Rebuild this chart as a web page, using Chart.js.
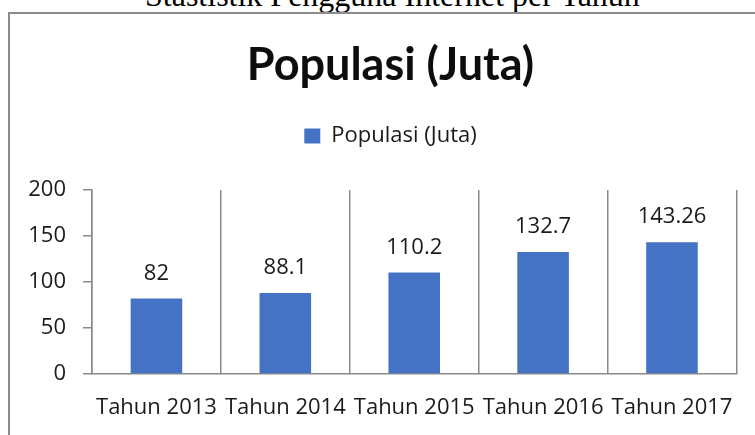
<!DOCTYPE html>
<html>
<head>
<meta charset="utf-8">
<title>Populasi (Juta)</title>
<script src="https://cdn.jsdelivr.net/npm/chart.js@4/dist/chart.umd.min.js"></script>
<style>
    html, body {
        margin: 0;
        padding: 0;
        width: 755px;
        height: 435px;
        overflow: hidden;
        background: #ffffff;
    }
    /* caption of the document, cut off at the top edge */
    .doc-caption {
        position: absolute;
        left: 145px;
        top: -21px;
        font-family: 'Liberation Serif', 'Times New Roman', serif;
        font-size: 32px;
        line-height: 32px;
        color: #000;
        white-space: nowrap;
    }
    /* the chart frame */
    .chart-frame {
        position: absolute;
        left: 8px;
        top: 12px;
        width: 800px;
        height: 500px;
        border: 2px solid #8c8c8c;
    }
    .chart-wrap {
        position: absolute;
        left: 0;
        top: 0;
        width: 755px;
        height: 435px;
    }
</style>
</head>
<body>
<div class="doc-caption">Stastistik Pengguna Internet per Tahun</div>
<div class="chart-frame"></div>
<div class="chart-wrap"><canvas id="populasi-chart" width="755" height="435"></canvas></div>

<script>
// --- Data ---
const categories = ['Tahun 2013', 'Tahun 2014', 'Tahun 2015', 'Tahun 2016', 'Tahun 2017'];
const populationValues = [82, 88.1, 110.2, 132.7, 143.26];
const yTickValues = [0, 50, 100, 150, 200];
const seriesLabel = 'Populasi (Juta)';

(function () {
    const canvasElement = document.getElementById('populasi-chart');
    if (!canvasElement) {
        return;
    }

    Chart.defaults.font.family = "'Open Sans', sans-serif";
    Chart.defaults.color = '#1a1a1a';

    // Draws the value above each bar (Excel style data labels)
    const valueLabels = {
        id: 'valueLabels',
        afterDatasetsDraw: function (chart) {
            const ctx = chart.ctx;
            const meta = chart.getDatasetMeta(0);
            ctx.save();
            ctx.font = "22px 'Open Sans', sans-serif";
            ctx.fillStyle = '#1a1a1a';
            ctx.textAlign = 'center';
            ctx.textBaseline = 'alphabetic';
            meta.data.forEach(function (bar, i) {
                ctx.fillText(String(chart.data.datasets[0].data[i]), bar.x, bar.y - 19);
            });
            ctx.restore();
        }
    };

    const gridGray = '#8a8a8a';

    const config = {
        type: 'bar',
        data: {
            labels: categories,
            datasets: [{
                label: seriesLabel,
                data: populationValues,
                backgroundColor: '#4472C4',
                borderWidth: 0,
                categoryPercentage: 1.0,
                barPercentage: 0.4
            }]
        },
        options: {
            responsive: false,
            animation: false,
            layout: {
                // title and legend are centred on the canvas minus the left padding
                padding: { left: 26, right: 0, top: 0, bottom: 0 }
            },
            scales: {
                x: {
                    grid: {
                        display: true,
                        offset: true,
                        drawTicks: false,
                        color: gridGray,
                        lineWidth: 1.5
                    },
                    border: { display: true, color: gridGray, width: 1.5 },
                    ticks: {
                        autoSkip: false,
                        maxRotation: 0,
                        minRotation: 0,
                        padding: 21,
                        color: '#1a1a1a',
                        font: { size: 22 }
                    },
                    afterFit: function (scale) {
                        scale.height = 61;
                    }
                },
                y: {
                    min: 0,
                    max: 200,
                    afterBuildTicks: function (scale) {
                        scale.ticks = yTickValues.map(function (v) { return { value: v }; });
                    },
                    grid: {
                        drawOnChartArea: false,
                        drawTicks: true,
                        tickLength: 9,
                        color: gridGray,
                        lineWidth: 1.5
                    },
                    border: { display: true, color: gridGray, width: 1.5 },
                    ticks: {
                        padding: 17,
                        color: '#1a1a1a',
                        font: { size: 22 }
                    },
                    afterFit: function (scale) {
                        scale.width = 66;
                    }
                },
                // empty right-hand axis, only reserves the space right of the plot
                ySpacer: {
                    position: 'right',
                    display: true,
                    min: 0,
                    max: 200,
                    grid: { display: false },
                    border: { display: false },
                    ticks: { display: false },
                    afterFit: function (scale) {
                        scale.width = 16;
                    }
                }
            },
            plugins: {
                title: {
                    display: true,
                    text: seriesLabel,
                    color: '#0d0d0d',
                    font: { family: "Lato, 'Open Sans', sans-serif", size: 45, weight: 'bold', lineHeight: 1.2 },
                    padding: { top: 38, bottom: 0 }
                },
                legend: {
                    display: true,
                    position: 'top',
                    labels: {
                        boxWidth: 16,
                        boxHeight: 15,
                        padding: 33,
                        color: '#1a1a1a',
                        font: { size: 22 }
                    }
                },
                // empty spacer below the legend (weight lower than the legend)
                subtitle: {
                    display: true,
                    text: '',
                    weight: 500,
                    font: { size: 1, lineHeight: 1 },
                    padding: { top: 0, bottom: 32 }
                },
                tooltip: { enabled: false }
            }
        },
        plugins: [valueLabels]
    };

    new Chart(canvasElement, config);
})();
</script>
</body>
</html>
